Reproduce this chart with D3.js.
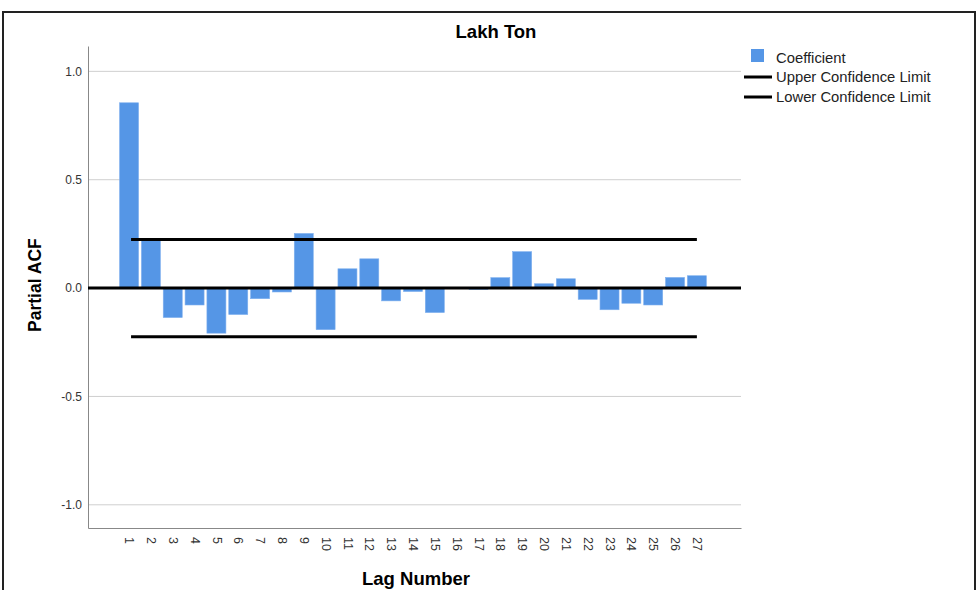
<!DOCTYPE html>
<html>
<head>
<meta charset="utf-8">
<script src="https://cdn.jsdelivr.net/npm/d3@7"></script>
<style>
  body { margin: 0; background: #fff; }
  text { font-family: "Liberation Sans", Arial, sans-serif; }
</style>
</head>
<body>
<div id="chart"></div>
<script>
// partial ACF by lag
var lags = d3.range(1, 28);
var coefficients = [0.855, 0.225, -0.136, -0.078, -0.208, -0.122, -0.049, -0.018, 0.252,
  -0.192, 0.089, 0.135, -0.059, -0.016, -0.113, 0.0, -0.006, 0.048, 0.168,
  0.02, 0.043, -0.052, -0.10, -0.07, -0.078, 0.049, 0.057];
var upperLimit = 0.224;
var lowerLimit = -0.224;
var yTicks = [-1.0, -0.5, 0.0, 0.5, 1.0];

var w = 979;
var h = 590;
var margin = ({top: 46, right: 238, bottom: 62, left: 88});
var barColor = '#5596e6';

var svg = d3.select('#chart')
  .append('svg')
  .attr('width', w)
  .attr('height', h);

// outer frame
svg.append('rect')
  .attr('x', 3).attr('y', 12)
  .attr('width', 972).attr('height', 600)
  .attr('fill', 'none')
  .attr('stroke', '#222')
  .attr('stroke-width', 2);

var x = d3.scaleLinear()
  .domain([-0.88, 29.02])
  .range([margin.left, w - margin.right]);

var y = d3.scaleLinear()
  .domain([-1.107, 1.117])
  .range([h - margin.bottom, margin.top]);

// grid
svg.append('g')
  .selectAll('line')
  .data(yTicks)
  .enter()
  .append('line')
  .attr('x1', margin.left)
  .attr('x2', w - margin.right)
  .attr('y1', d => y(d))
  .attr('y2', d => y(d))
  .attr('stroke', '#cfcfcf')
  .attr('stroke-width', 1);

// y axis (plain hyphen for negatives, like the original)
var yAxis = d3.axisLeft(y)
  .tickValues(yTicks)
  .tickFormat(d => d.toFixed(1))
  .tickSize(0)
  .tickPadding(6);

var gy = svg.append('g')
  .attr('transform', 'translate(' + margin.left + ',0)')
  .call(yAxis);
gy.select('.domain').attr('stroke', '#888');
gy.selectAll('text').attr('font-size', 12).attr('fill', '#333')
  .attr('font-family', '"Liberation Sans", Arial, sans-serif');

// x axis
var xAxis = d3.axisBottom(x)
  .tickValues(lags)
  .tickFormat(d3.format('d'))
  .tickSize(0);

var gx = svg.append('g')
  .attr('transform', 'translate(0,' + (h - margin.bottom) + ')')
  .call(xAxis);
gx.select('.domain').attr('stroke', '#888');
gx.selectAll('text')
  .attr('font-size', 12.5)
  .attr('fill', '#333')
  .attr('font-family', '"Liberation Sans", Arial, sans-serif')
  .attr('text-anchor', 'start')
  .attr('dy', '0.35em')
  .attr('transform', 'translate(0,9) rotate(90)')
  .attr('y', 0)
  .attr('x', 0);

// bars
var barW = 19;
svg.append('g')
  .selectAll('rect')
  .data(lags)
  .enter()
  .append('rect')
  .attr('x', (d, i) => x(d) - barW / 2)
  .attr('y', (d, i) => y(Math.max(0, coefficients[i])))
  .attr('width', barW)
  .attr('height', (d, i) => Math.abs(y(coefficients[i]) - y(0)))
  .attr('fill', barColor)
  .attr('stroke', '#7fb0ee')
  .attr('stroke-width', 0.6);

// zero line
svg.append('line')
  .attr('x1', margin.left)
  .attr('x2', w - margin.right)
  .attr('y1', y(0)).attr('y2', y(0))
  .attr('stroke', '#000')
  .attr('stroke-width', 3);

// confidence limits
[upperLimit, lowerLimit].forEach(function(v) {
  svg.append('line')
    .attr('x1', x(1) + 2)
    .attr('x2', x(27))
    .attr('y1', y(v)).attr('y2', y(v))
    .attr('stroke', '#000')
    .attr('stroke-width', 3);
});

// titles
svg.append('text')
  .attr('x', 496).attr('y', 38)
  .attr('text-anchor', 'middle')
  .attr('font-size', 18.5)
  .attr('font-weight', 'bold')
  .text('Lakh Ton');

svg.append('text')
  .attr('transform', 'translate(41,' + (y(0) - 3) + ') rotate(-90)')
  .attr('text-anchor', 'middle')
  .attr('font-size', 17.5)
  .attr('font-weight', 'bold')
  .text('Partial ACF');

svg.append('text')
  .attr('x', 416).attr('y', 585)
  .attr('text-anchor', 'middle')
  .attr('font-size', 18.5)
  .attr('font-weight', 'bold')
  .text('Lag Number');

// legend
var legend = svg.append('g');
legend.append('rect')
  .attr('x', 751).attr('y', 49)
  .attr('width', 13).attr('height', 13)
  .attr('fill', barColor);
legend.append('text')
  .attr('x', 776).attr('y', 63)
  .attr('font-size', 14.8).attr('fill', '#222')
  .text('Coefficient');
['Upper Confidence Limit', 'Lower Confidence Limit'].forEach(function(t, i) {
  var ly = 77 + i * 20;
  legend.append('line')
    .attr('x1', 744).attr('x2', 772)
    .attr('y1', ly).attr('y2', ly)
    .attr('stroke', '#000')
    .attr('stroke-width', 3);
  legend.append('text')
    .attr('x', 776).attr('y', ly + 5)
    .attr('font-size', 14.8).attr('fill', '#222')
    .text(t);
});
</script>
</body>
</html>
